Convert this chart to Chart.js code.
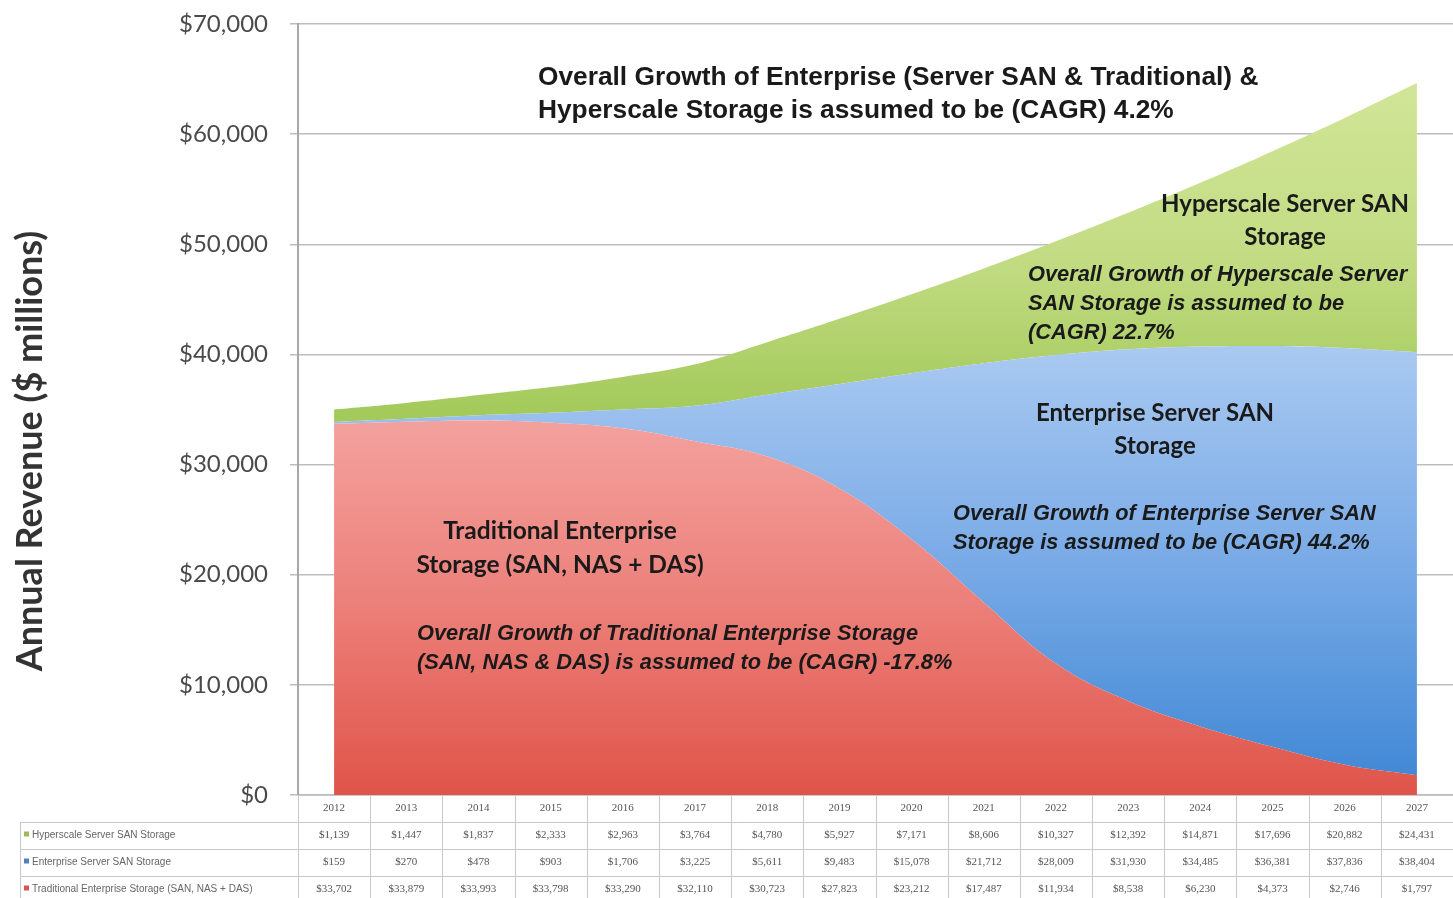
<!DOCTYPE html>
<html>
<head>
<meta charset="utf-8">
<script src="https://cdn.jsdelivr.net/npm/chart.js@4.4.1/dist/chart.umd.min.js"></script>
<style>
  html, body { margin: 0; padding: 0; background: #fff; }
  #wrap { width: 1453px; height: 898px; position: relative; }
</style>
</head>
<body>
<div id="wrap"><canvas id="chart" width="1453" height="898"></canvas></div>
<script>
// data ($ millions)
const years = ['2012', '2013', '2014', '2015', '2016', '2017', '2018', '2019',
  '2020', '2021', '2022', '2023', '2024', '2025', '2026', '2027'];
const hyperscale = [1139, 1447, 1837, 2333, 2963, 3764, 4780, 5927,
  7171, 8606, 10327, 12392, 14871, 17696, 20882, 24431];
const enterpriseSan = [159, 270, 478, 903, 1706, 3225, 5611, 9483,
  15078, 21712, 28009, 31930, 34485, 36381, 37836, 38404];
const traditional = [33702, 33879, 33993, 33798, 33290, 32110, 30723, 27823,
  23212, 17487, 11934, 8538, 6230, 4373, 2746, 1797];

const seriesNames = ['Hyperscale Server SAN Storage', 'Enterprise Server SAN Storage',
  'Traditional Enterprise Storage (SAN, NAS + DAS)'];
const yTicks = [0, 10000, 20000, 30000, 40000, 50000, 60000, 70000];

const fmt = v => '$' + v.toLocaleString('en-US');

// vertical gradient over the chart area
function grad(chart, stops) {
  const a = chart.chartArea;
  if (!a) return stops[0][1];
  const g = chart.ctx.createLinearGradient(0, a.top, 0, a.bottom);
  stops.forEach(s => g.addColorStop(s[0], s[1]));
  return g;
}

// table under the plot, columns follow the x scale
const tablePlugin = {
  id: 'table',
  afterDraw(chart) {
    const ctx = chart.ctx;
    const x = chart.scales.x;
    const top = chart.chartArea.bottom;
    const colW = x.width / years.length;
    const rowH = 27;
    const left = 20;
    const right = x.right;
    const rows = [hyperscale, enterpriseSan, traditional];
    const swatch = ['#9bbb59', '#4f81bd', '#d9534f'];
    ctx.save();
    ctx.strokeStyle = '#c8c8c8';
    ctx.lineWidth = 1;
    // horizontal lines
    for (let r = 0; r <= 4; r++) {
      const y = Math.round(top + r * rowH) + 0.5;
      ctx.beginPath();
      ctx.moveTo(r === 0 ? x.left : left, y);
      ctx.lineTo(right, y);
      ctx.stroke();
    }
    // vertical lines
    for (let i = 0; i <= years.length; i++) {
      const xx = Math.round(x.left + i * colW) + 0.5;
      ctx.beginPath();
      ctx.moveTo(xx, top);
      ctx.lineTo(xx, top + 4 * rowH);
      ctx.stroke();
    }
    ctx.beginPath();
    ctx.moveTo(left + 0.5, top + rowH);
    ctx.lineTo(left + 0.5, top + 4 * rowH);
    ctx.stroke();

    ctx.fillStyle = '#555';
    ctx.textAlign = 'center';
    ctx.textBaseline = 'middle';
    ctx.font = '11px "Liberation Serif", serif';
    years.forEach((yr, i) => {
      ctx.fillText(yr, x.getPixelForValue(i), top + rowH / 2);
    });
    rows.forEach((vals, r) => {
      const cy = top + rowH * (r + 1.5);
      vals.forEach((v, i) => {
        ctx.fillText(fmt(v), x.getPixelForValue(i), cy);
      });
    });
    ctx.textAlign = 'left';
    ctx.font = '10px "Liberation Sans Narrow", "Liberation Sans", sans-serif';
    seriesNames.forEach((name, r) => {
      const cy = top + rowH * (r + 1.5);
      ctx.fillStyle = swatch[r];
      ctx.fillRect(left + 4, cy - 4, 5, 5);
      ctx.fillStyle = '#666';
      ctx.fillText(name, left + 12, cy);
    });
    ctx.restore();
  }
};

// the text written over the areas
const notes = [
  { lines: ['Overall Growth of Enterprise (Server SAN & Traditional) &',
            'Hyperscale Storage is assumed to be (CAGR) 4.2%'],
    x: 538, y: 78, dy: 33, align: 'left', font: 'bold 26.3px "Liberation Sans", Arial, sans-serif' },
  { lines: ['Hyperscale Server SAN', 'Storage'],
    x: 1285, y: 204, dy: 33, align: 'center', font: 'bold 24px Lato, sans-serif' },
  { lines: ['Overall Growth of Hyperscale Server', 'SAN Storage is assumed to be', '(CAGR) 22.7%'],
    x: 1028, y: 275, dy: 29, align: 'left', font: 'italic bold 21.8px "Liberation Sans", Arial, sans-serif' },
  { lines: ['Enterprise Server SAN', 'Storage'],
    x: 1155, y: 413, dy: 33, align: 'center', font: 'bold 24px Lato, sans-serif' },
  { lines: ['Overall Growth of Enterprise Server SAN', 'Storage is assumed to be (CAGR) 44.2%'],
    x: 953, y: 514, dy: 29, align: 'left', font: 'italic bold 21.8px "Liberation Sans", Arial, sans-serif' },
  { lines: ['Traditional Enterprise', 'Storage (SAN, NAS + DAS)'],
    x: 560, y: 531, dy: 34, align: 'center', font: 'bold 24.5px Lato, sans-serif' },
  { lines: ['Overall Growth of Traditional Enterprise Storage',
            '(SAN, NAS & DAS) is assumed to be (CAGR) -17.8%'],
    x: 417, y: 634, dy: 29, align: 'left', font: 'italic bold 21.8px "Liberation Sans", Arial, sans-serif' }
];

const notesPlugin = {
  id: 'notes',
  afterDatasetsDraw(chart) {
    const ctx = chart.ctx;
    ctx.save();
    ctx.fillStyle = '#1a1a1a';
    ctx.textBaseline = 'middle';
    notes.forEach(n => {
      ctx.font = n.font;
      ctx.textAlign = n.align;
      n.lines.forEach((t, i) => ctx.fillText(t, n.x, n.y + i * n.dy));
    });
    // axis title, centred on the whole picture height like the original
    ctx.translate(30, 451);
    ctx.rotate(-Math.PI / 2);
    ctx.textAlign = 'center';
    ctx.fillStyle = '#333';
    ctx.font = 'bold 36px Lato, sans-serif';
    ctx.fillText('Annual Revenue ($ millions)', 0, 0);
    ctx.restore();
  }
};

new Chart(document.getElementById('chart'), {
  type: 'line',
  data: {
    labels: years,
    datasets: [
      {
        label: seriesNames[2],
        data: traditional,
        fill: 'origin',
        backgroundColor: c => grad(c.chart, [[0, '#f7b4b2'], [0.5, '#f4a3a0'], [0.75, '#ec807a'], [1, '#df5449']])
      },
      {
        label: seriesNames[1],
        data: enterpriseSan,
        fill: '-1',
        backgroundColor: c => grad(c.chart, [[0, '#c4dbf6'], [0.42, '#a9c9f1'], [0.7, '#79aae6'], [1, '#3d86d4']])
      },
      {
        label: seriesNames[0],
        data: hyperscale,
        fill: '-1',
        backgroundColor: c => grad(c.chart, [[0, '#d6e89e'], [0.3, '#c3dc84'], [0.5, '#a4ca5c'], [1, '#8cbd40']])
      }
    ]
  },
  options: {
    responsive: false,
    animation: false,
    layout: { padding: { top: 24, right: 0, bottom: 103, left: 0 } },
    elements: {
      line: { tension: 0.4, borderWidth: 0, borderColor: 'rgba(0,0,0,0)' },
      point: { radius: 0 }
    },
    plugins: {
      legend: { display: false },
      tooltip: { enabled: false }
    },
    scales: {
      x: {
        display: false,
        offset: true,
        stacked: true
      },
      y: {
        stacked: true,
        min: 0,
        max: 70000,
        afterFit: s => { s.width = 298; s.paddingTop = 0; s.paddingBottom = 0; },
        afterBuildTicks: s => { s.ticks = yTicks.map(v => ({ value: v })); },
        ticks: {
          padding: 22,
          color: '#4a4a4a',
          font: { family: 'Lato, sans-serif', size: 24 },
          callback: v => fmt(v)
        },
        grid: {
          color: '#bdbdbd',
          lineWidth: 1.5,
          tickLength: 8
        },
        border: { color: '#a8a8a8', width: 2 }
      }
    }
  },
  plugins: [tablePlugin, notesPlugin]
});
</script>
</body>
</html>
